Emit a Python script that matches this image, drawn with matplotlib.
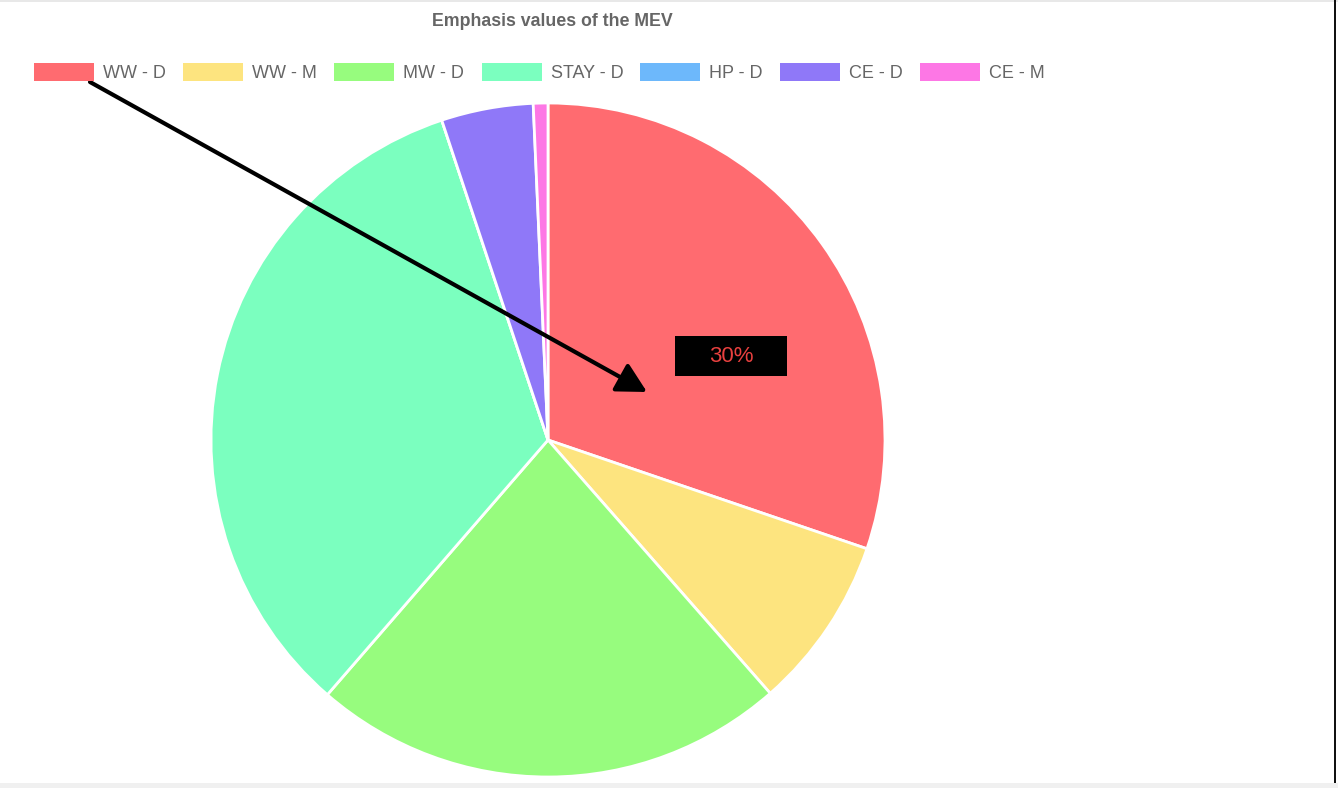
import matplotlib
matplotlib.use("Agg")
import matplotlib.pyplot as plt
from matplotlib.patches import Rectangle, FancyArrowPatch

labels = ["WW - D", "WW - M", "MW - D", "STAY - D", "HP - D", "CE - D", "CE - M"]
values = [30.2, 8.3, 22.8, 33.5, 0.0, 4.4, 0.7]
colors = ["#ff6b70", "#fde47f", "#97fc7e", "#7bffbf", "#6db8fb", "#8f78f8", "#fd77e5"]
title = "Emphasis values of the MEV"

plt.rcParams['font.family'] = ['Liberation Sans', 'DejaVu Sans']

W, H = 1338, 788
fig = plt.figure(figsize=(W / 100, H / 100), dpi=100)
fig.patch.set_facecolor("white")

cx, cy, r = 548, 440, 337
ax = fig.add_axes([(cx - r) / W, (H - cy - r) / H, 2 * r / W, 2 * r / H])
wedges, _ = ax.pie(values, colors=colors, startangle=90, counterclock=False,
                   radius=1.0, wedgeprops=dict(edgecolor="white", linewidth=2.0))
ax.set_xlim(-1, 1)
ax.set_ylim(-1, 1)
ax.set_aspect('auto')
ax.axis('off')

fig.text(552 / W, 1 - 21 / H, title, ha='center', va='center',
         fontsize=12.8, fontweight='bold', color='#666666')

fs = 13
px = fs * 100 / 72
leg = fig.legend(wedges, labels, loc='center left', bbox_to_anchor=(34 / W, 1 - 72.5 / H),
                 ncol=len(labels), frameon=False, fontsize=fs,
                 handlelength=60 / px, handleheight=20 / px, handletextpad=9 / px,
                 columnspacing=17.3 / px, labelcolor='#666666', borderaxespad=0, borderpad=0)
for h in leg.legend_handles:
    h.set_edgecolor('none')

# annotation arrow from legend to WW - D slice
fig.add_artist(FancyArrowPatch(
    (90, H - 82), (647, H - 392), transform=None,
    arrowstyle='-|>,head_length=0.9,head_width=0.48', mutation_scale=20,
    color='black', linewidth=3.0, shrinkA=0, shrinkB=0))

# label box
fig.add_artist(Rectangle((675 / W, 1 - 376 / H), 112 / W, 40 / H,
                         transform=fig.transFigure, facecolor='black', edgecolor='none'))
pct = values[0] / sum(values) * 100
fig.text(731 / W, 1 - 357 / H, f"{pct:.0f}%", ha='center', va='center',
         fontsize=16, color='#e8403f')

# frame decorations
fig.add_artist(Rectangle((0, 0), 1, 5 / H, transform=fig.transFigure,
                         facecolor='#f0f0f0', edgecolor='none'))
fig.add_artist(Rectangle((0, 1 - 1.5 / H), 1, 1.5 / H, transform=fig.transFigure,
                         facecolor='#e8e8e8', edgecolor='none'))
fig.add_artist(Rectangle((1334 / W, 5 / H), 2 / W, 1 - 5 / H, transform=fig.transFigure,
                         facecolor='#111111', edgecolor='none'))

fig.savefig("out.png", dpi=100)
